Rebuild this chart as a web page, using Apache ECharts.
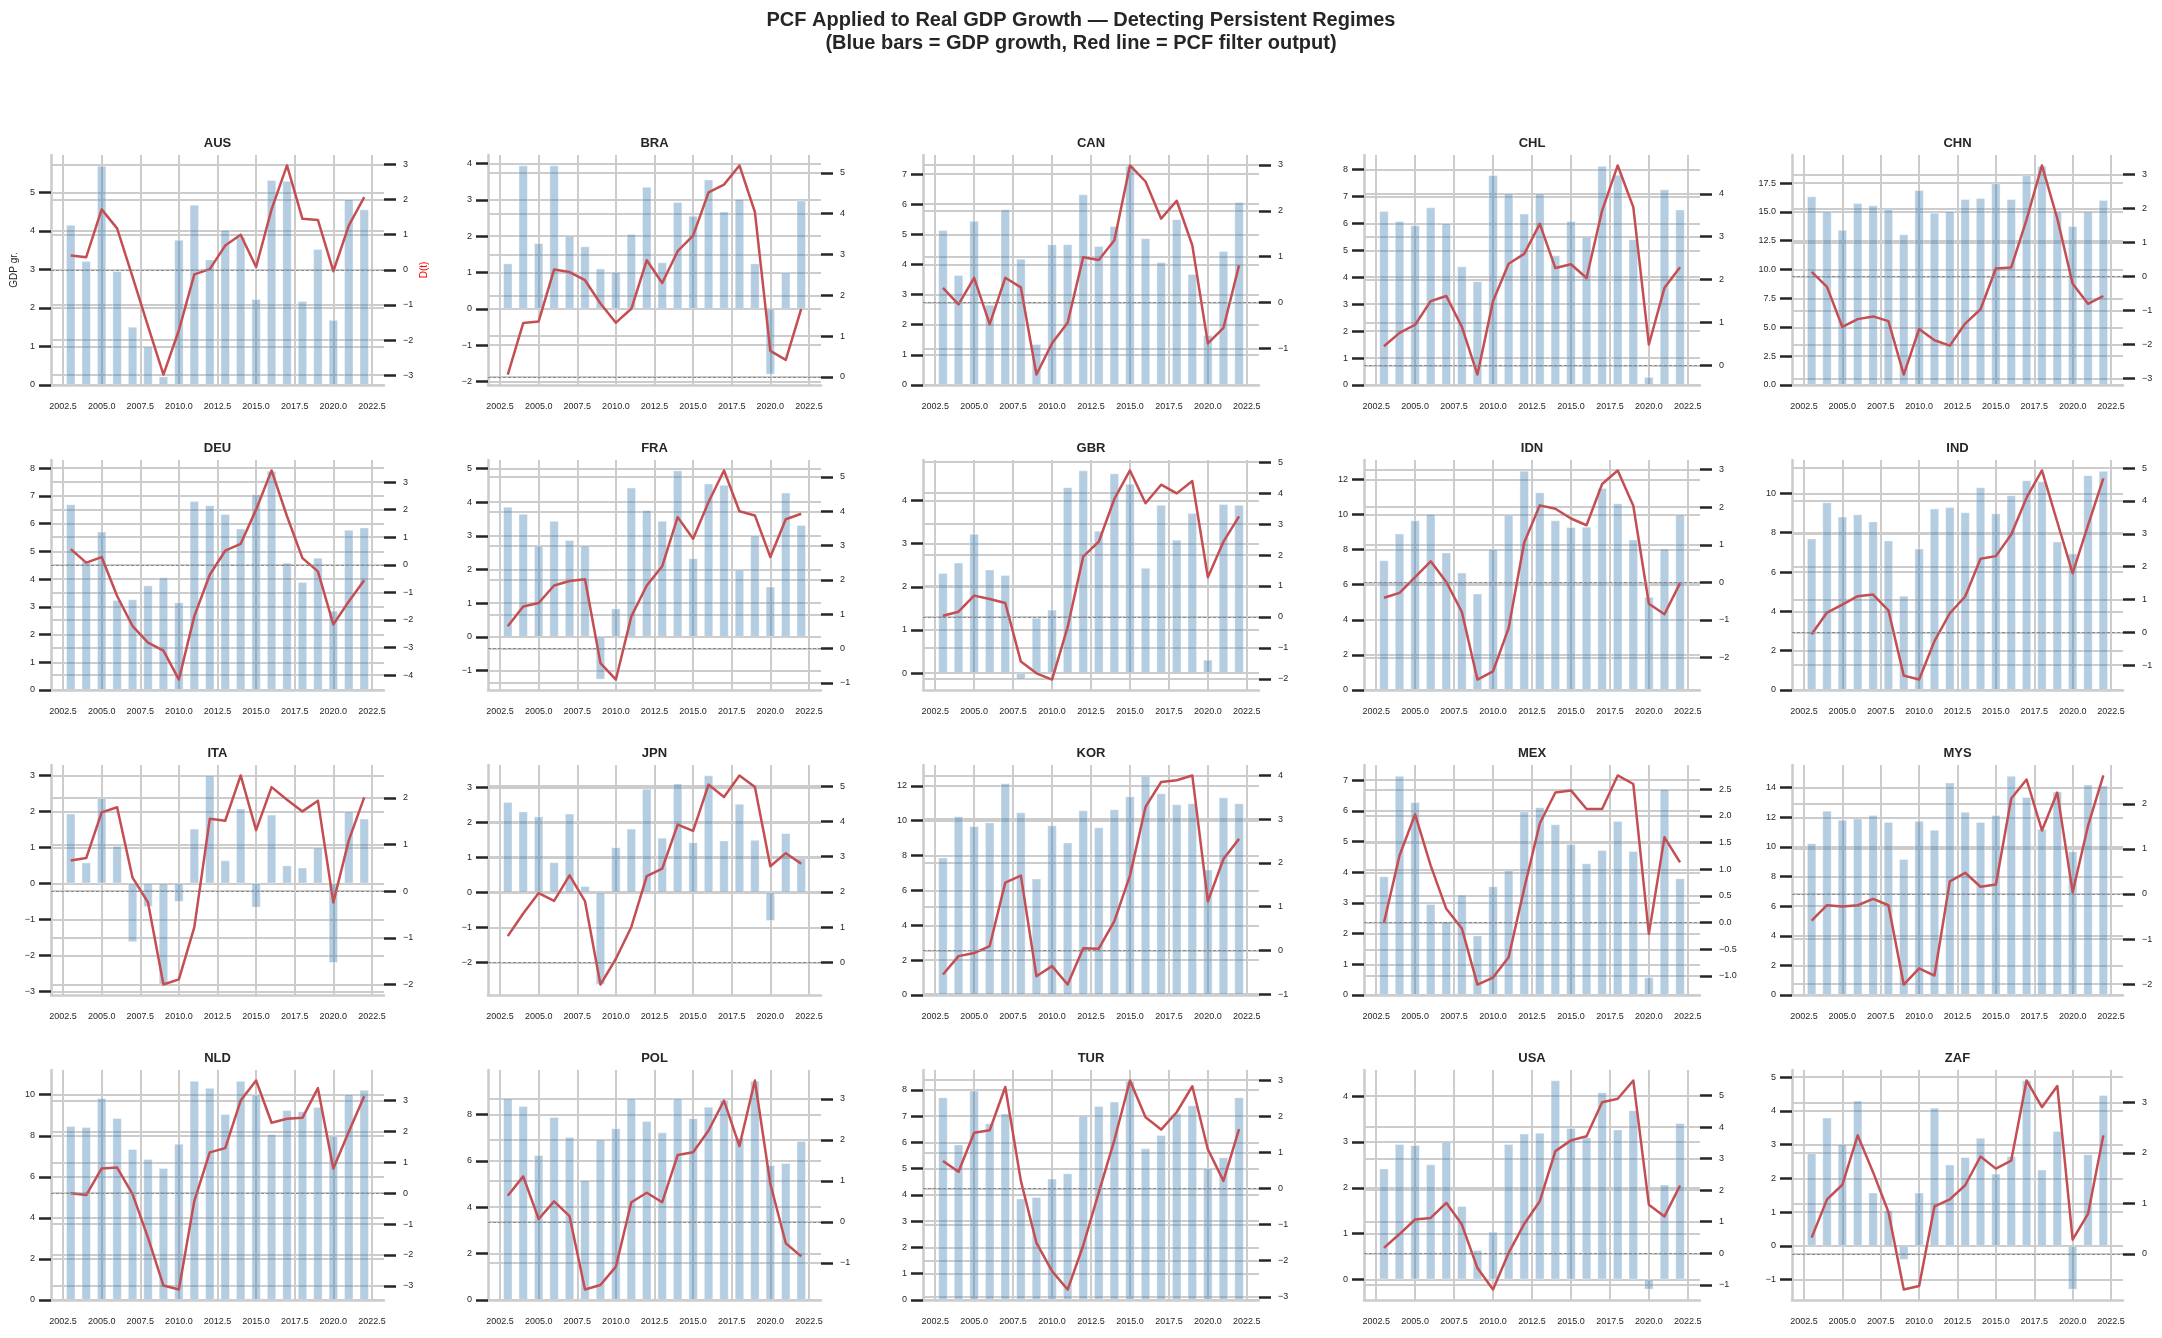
<!DOCTYPE html>
<html>
<head>
<meta charset="utf-8">
<script src="https://cdn.jsdelivr.net/npm/echarts@6/dist/echarts.min.js"></script>
<style>
html,body{margin:0;padding:0;background:#ffffff;}
#chart{width:2162px;height:1338px;}
</style>
</head>
<body>
<div id="chart"></div>
<script>
// ---------------- DATA ----------------
const years = [2003,2004,2005,2006,2007,2008,2009,2010,2011,2012,2013,2014,2015,2016,2017,2018,2019,2020,2021,2022];
const countries = ['AUS','BRA','CAN','CHL','CHN','DEU','FRA','GBR','IDN','IND','ITA','JPN','KOR','MEX','MYS','NLD','POL','TUR','USA','ZAF'];
const xTicks = [2002.5,2005,2007.5,2010,2012.5,2015,2017.5,2020,2022.5];

const AUS_gdp = [4.16,3.22,5.69,2.96,1.51,1.00,0.22,3.77,4.68,3.26,4.03,3.85,2.23,5.32,5.30,2.18,3.53,1.69,4.83,4.56];
const AUS_pcf = [0.41,0.36,1.72,1.18,-0.20,-1.60,-2.98,-1.72,-0.13,0.02,0.69,1.00,0.08,1.72,2.97,1.45,1.42,-0.04,1.26,2.07];
const AUS_tl = [0,1,2,3,4,5];
const AUS_tr = [-3,-2,-1,0,1,2,3];

const BRA_gdp = [1.25,3.95,1.81,3.95,2.01,1.72,1.11,1.02,2.06,3.36,1.28,2.94,2.56,3.56,2.68,3.03,1.25,-1.81,1.00,2.98];
const BRA_pcf = [0.06,1.32,1.36,2.63,2.57,2.37,1.80,1.33,1.67,2.86,2.30,3.08,3.46,4.52,4.71,5.18,4.04,0.64,0.42,1.67];
const BRA_tl = [-2,-1,0,1,2,3,4];
const BRA_tr = [0,1,2,3,4,5];

const CAN_gdp = [5.14,3.65,5.45,2.66,5.83,4.19,1.36,4.67,4.67,6.33,4.61,5.27,7.27,4.87,4.08,5.50,3.68,1.66,4.44,6.07];
const CAN_pcf = [0.32,-0.04,0.54,-0.47,0.54,0.33,-1.57,-0.89,-0.44,0.99,0.93,1.36,2.99,2.64,1.83,2.22,1.25,-0.89,-0.55,0.81];
const CAN_tl = [0,1,2,3,4,5,6,7];
const CAN_tr = [-1,0,1,2,3];

const CHL_gdp = [6.45,6.08,5.93,6.59,6.00,4.40,3.85,7.79,7.11,6.36,7.11,4.81,6.08,5.50,8.13,7.80,5.41,0.30,7.26,6.51];
const CHL_pcf = [0.45,0.76,0.95,1.50,1.62,0.90,-0.21,1.50,2.37,2.60,3.30,2.27,2.36,2.04,3.61,4.66,3.69,0.49,1.81,2.29];
const CHL_tl = [0,1,2,3,4,5,6,7,8];
const CHL_tr = [0,1,2,3,4];

const CHN_gdp = [16.34,15.04,13.44,15.76,15.56,15.24,13.06,16.89,14.92,15.07,16.11,16.20,17.47,16.11,18.17,18.98,15.04,13.76,15.04,16.02];
const CHN_pcf = [0.14,-0.30,-1.48,-1.25,-1.17,-1.31,-2.88,-1.54,-1.87,-2.03,-1.38,-0.96,0.24,0.27,1.68,3.27,1.71,-0.21,-0.80,-0.57];
const CHN_tl = [0,2.5,5,7.5,10,12.5,15,17.5];
const CHN_tr = [-3,-2,-1,0,1,2,3];

const DEU_gdp = [6.70,4.65,5.71,3.24,3.27,3.77,4.06,3.16,6.81,6.66,6.34,5.82,7.06,7.90,4.59,3.89,4.77,2.86,5.78,5.86];
const DEU_pcf = [0.57,0.08,0.28,-1.13,-2.22,-2.82,-3.11,-4.16,-1.86,-0.36,0.51,0.76,2.00,3.42,1.76,0.24,-0.24,-2.16,-1.33,-0.56];
const DEU_tl = [0,1,2,3,4,5,6,7,8];
const DEU_tr = [-4,-3,-2,-1,0,1,2,3];

const FRA_gdp = [3.86,3.65,2.70,3.44,2.87,2.71,-1.27,0.84,4.43,3.76,3.44,4.94,2.33,4.55,4.51,1.99,3.01,1.49,4.28,3.32];
const FRA_pcf = [0.65,1.23,1.33,1.84,1.97,2.02,-0.42,-0.90,0.94,1.84,2.40,3.83,3.20,4.27,5.19,4.00,3.88,2.67,3.77,3.93];
const FRA_tl = [-1,0,1,2,3,4,5];
const FRA_tr = [-1,0,1,2,3,4,5];

const GBR_gdp = [2.32,2.56,3.23,2.40,2.27,-0.15,1.28,1.47,4.31,4.70,3.30,4.63,4.39,2.44,3.90,3.09,3.71,0.31,3.92,3.90];
const GBR_pcf = [0.04,0.17,0.69,0.58,0.45,-1.44,-1.82,-2.02,-0.33,1.95,2.43,3.81,4.73,3.67,4.27,3.99,4.39,1.28,2.43,3.25];
const GBR_tl = [0,1,2,3,4];
const GBR_tr = [-2,-1,0,1,2,3,4,5];

const IDN_gdp = [7.39,8.91,9.66,10.04,7.83,6.69,5.49,8.04,9.98,12.48,11.26,9.66,9.28,9.30,11.50,10.63,8.57,5.31,8.06,10.00];
const IDN_pcf = [-0.41,-0.28,0.14,0.56,0.01,-0.79,-2.59,-2.37,-1.22,1.06,2.05,1.96,1.70,1.52,2.62,2.98,2.04,-0.57,-0.85,-0.02];
const IDN_tl = [0,2,4,6,8,10,12];
const IDN_tr = [-2,-1,0,1,2,3];

const IND_gdp = [7.70,9.54,8.82,8.93,8.57,7.60,4.79,7.19,9.23,9.30,9.03,10.31,8.98,9.90,10.66,10.61,7.55,6.95,10.92,11.14];
const IND_pcf = [-0.06,0.60,0.84,1.10,1.15,0.67,-1.32,-1.44,-0.27,0.58,1.09,2.24,2.32,2.98,4.10,4.93,3.36,1.80,3.26,4.69];
const IND_tl = [0,2,4,6,8,10];
const IND_tr = [-1,0,1,2,3,4,5];

const ITA_gdp = [1.94,0.58,2.37,1.04,-1.63,-0.65,-2.81,-0.51,1.52,3.00,0.64,2.08,-0.67,1.91,0.50,0.44,1.00,-2.21,2.00,1.80];
const ITA_pcf = [0.66,0.71,1.69,1.80,0.29,-0.24,-2.00,-1.89,-0.77,1.55,1.51,2.48,1.31,2.23,1.96,1.71,1.94,-0.24,1.09,2.01];
const ITA_tl = [-3,-2,-1,0,1,2,3];
const ITA_tr = [-2,-1,0,1,2];

const JPN_gdp = [2.58,2.31,2.17,0.86,2.25,0.18,-2.63,1.29,1.82,2.96,1.56,3.11,1.43,3.34,1.48,2.53,1.50,-0.81,1.69,0.98];
const JPN_pcf = [0.75,1.39,1.97,1.75,2.47,1.74,-0.62,0.11,1.01,2.45,2.66,3.91,3.73,5.04,4.69,5.30,4.97,2.73,3.10,2.80];
const JPN_tl = [-2,-1,0,1,2,3];
const JPN_tr = [0,1,2,3,4,5];

const KOR_gdp = [7.89,10.25,9.69,9.90,12.15,10.48,6.68,9.73,8.75,10.60,9.62,10.65,11.40,12.57,11.57,10.94,11.00,7.20,11.34,11.00];
const KOR_pcf = [-0.55,-0.13,-0.06,0.10,1.55,1.71,-0.59,-0.36,-0.78,0.05,0.04,0.67,1.71,3.28,3.85,3.89,4.00,1.12,2.09,2.55];
const KOR_tl = [0,2,4,6,8,10,12];
const KOR_tr = [-1,0,1,2,3,4];

const MEX_gdp = [3.87,7.14,6.29,2.96,2.40,3.27,1.94,3.54,4.07,5.98,6.12,5.56,4.92,4.29,4.72,5.67,4.69,0.58,6.72,3.80];
const MEX_pcf = [0.00,1.26,2.03,1.07,0.26,-0.11,-1.16,-1.03,-0.65,0.64,1.86,2.44,2.48,2.13,2.13,2.76,2.60,-0.21,1.60,1.13];
const MEX_tl = [0,1,2,3,4,5,6,7];
const MEX_tr = [-1,-0.5,0,0.5,1,1.5,2,2.5];

const MYS_gdp = [10.24,12.44,11.83,11.92,12.14,11.67,9.18,11.76,11.15,14.34,12.37,11.67,12.14,14.79,13.37,11.20,13.73,9.70,14.20,14.14];
const MYS_pcf = [-0.59,-0.25,-0.28,-0.25,-0.11,-0.25,-2.01,-1.65,-1.81,0.28,0.47,0.16,0.21,2.12,2.54,1.41,2.25,0.04,1.51,2.63];
const MYS_tl = [0,2,4,6,8,10,12,14];
const MYS_tr = [-2,-1,0,1,2];

const NLD_gdp = [8.47,8.42,9.84,8.86,7.35,6.86,6.42,7.61,10.67,10.33,9.06,10.67,10.00,8.08,9.25,9.19,9.40,8.00,10.03,10.24];
const NLD_pcf = [0.00,-0.06,0.80,0.83,-0.03,-1.44,-2.99,-3.12,-0.25,1.32,1.46,3.00,3.65,2.28,2.41,2.44,3.40,0.80,1.99,3.14];
const NLD_tl = [0,2,4,6,8,10];
const NLD_tr = [-3,-2,-1,0,1,2,3];

const POL_gdp = [8.69,8.36,6.24,7.88,7.02,5.17,6.92,7.40,8.69,7.71,7.22,8.69,7.83,8.32,8.63,7.00,9.44,5.81,5.90,6.85];
const POL_pcf = [0.64,1.11,0.07,0.50,0.14,-1.65,-1.54,-1.09,0.48,0.71,0.48,1.63,1.70,2.23,2.96,1.85,3.45,0.93,-0.52,-0.84];
const POL_tl = [0,2,4,6,8];
const POL_tr = [-1,0,1,2,3];

const TUR_gdp = [7.72,5.92,7.97,6.73,7.10,3.86,3.92,4.62,4.82,7.01,7.38,7.55,8.34,5.77,6.28,7.11,7.41,5.01,5.43,7.72];
const TUR_pcf = [0.76,0.46,1.54,1.61,2.81,0.21,-1.51,-2.29,-2.80,-1.58,-0.11,1.34,2.99,1.97,1.63,2.11,2.83,1.08,0.21,1.64];
const TUR_tl = [0,1,2,3,4,5,6,7,8];
const TUR_tr = [-3,-2,-1,0,1,2,3];

const USA_gdp = [2.42,2.95,2.93,2.51,3.00,1.60,0.64,1.04,2.95,3.18,3.20,4.34,3.30,3.10,4.08,3.27,3.69,-0.22,2.07,3.41];
const USA_pcf = [0.17,0.61,1.07,1.12,1.60,0.91,-0.47,-1.15,0.01,0.93,1.65,3.24,3.58,3.71,4.79,4.90,5.48,1.54,1.17,2.15];
const USA_tl = [0,1,2,3,4];
const USA_tr = [-1,0,1,2,3,4,5];

const ZAF_gdp = [2.75,3.80,3.02,4.30,1.58,1.06,-0.41,1.58,4.09,2.41,2.63,3.20,2.14,2.66,4.90,2.26,3.40,-1.29,2.71,4.47];
const ZAF_pcf = [0.32,1.08,1.37,2.35,1.62,0.83,-0.71,-0.64,0.94,1.08,1.36,1.93,1.69,1.85,3.44,2.91,3.33,0.28,0.79,2.35];
const ZAF_tl = [-1,0,1,2,3,4,5];
const ZAF_tr = [0,1,2,3];

// lookup tables built from the arrays above
const gdpOf = {AUS:AUS_gdp,BRA:BRA_gdp,CAN:CAN_gdp,CHL:CHL_gdp,CHN:CHN_gdp,DEU:DEU_gdp,FRA:FRA_gdp,GBR:GBR_gdp,IDN:IDN_gdp,IND:IND_gdp,ITA:ITA_gdp,JPN:JPN_gdp,KOR:KOR_gdp,MEX:MEX_gdp,MYS:MYS_gdp,NLD:NLD_gdp,POL:POL_gdp,TUR:TUR_gdp,USA:USA_gdp,ZAF:ZAF_gdp};
const pcfOf = {AUS:AUS_pcf,BRA:BRA_pcf,CAN:CAN_pcf,CHL:CHL_pcf,CHN:CHN_pcf,DEU:DEU_pcf,FRA:FRA_pcf,GBR:GBR_pcf,IDN:IDN_pcf,IND:IND_pcf,ITA:ITA_pcf,JPN:JPN_pcf,KOR:KOR_pcf,MEX:MEX_pcf,MYS:MYS_pcf,NLD:NLD_pcf,POL:POL_pcf,TUR:TUR_pcf,USA:USA_pcf,ZAF:ZAF_pcf};
const tlOf = {AUS:AUS_tl,BRA:BRA_tl,CAN:CAN_tl,CHL:CHL_tl,CHN:CHN_tl,DEU:DEU_tl,FRA:FRA_tl,GBR:GBR_tl,IDN:IDN_tl,IND:IND_tl,ITA:ITA_tl,JPN:JPN_tl,KOR:KOR_tl,MEX:MEX_tl,MYS:MYS_tl,NLD:NLD_tl,POL:POL_tl,TUR:TUR_tl,USA:USA_tl,ZAF:ZAF_tl};
const trOf = {AUS:AUS_tr,BRA:BRA_tr,CAN:CAN_tr,CHL:CHL_tr,CHN:CHN_tr,DEU:DEU_tr,FRA:FRA_tr,GBR:GBR_tr,IDN:IDN_tr,IND:IND_tr,ITA:ITA_tr,JPN:JPN_tr,KOR:KOR_tr,MEX:MEX_tr,MYS:MYS_tr,NLD:NLD_tr,POL:POL_tr,TUR:TUR_tr,USA:USA_tr,ZAF:ZAF_tr};

// ---------------- LAYOUT / STYLE ----------------
const FONT = "'Liberation Sans', Arial, Helvetica, sans-serif";
const TXT = '#262626';
const GRIDC = '#cccccc';
const colLeft = [51, 488, 923, 1364, 1792];
const colWidth = [333, 333, 336, 336, 331];
const rowTop = [155, 460, 765, 1070];
const plotH = 230;
const xMin = 2001.72, xMax = 2023.28;

function fmtTicks(ticks) {
  const dec = ticks.some(t => Math.abs(t - Math.round(t)) > 1e-9) ? 1 : 0;
  return v => {
    const s = Math.abs(v).toFixed(dec);
    return (v < -1e-9 ? '\u2212' : '') + s;
  };
}

const chart = echarts.init(document.getElementById('chart'), null, {renderer: 'canvas'});
const grids = [], xAxes = [], yAxes = [], series = [], graphics = [];

graphics.push({type:'text', x:1081, y:20, silent:true,
  style:{text:'PCF Applied to Real GDP Growth \u2014 Detecting Persistent Regimes', fontSize:20, fontWeight:'bold', fontFamily:FONT, fill:TXT, align:'center', verticalAlign:'middle', textAlign:'center', textVerticalAlign:'middle'}});
graphics.push({type:'text', x:1081, y:43, silent:true,
  style:{text:'(Blue bars = GDP growth, Red line = PCF filter output)', fontSize:20, fontWeight:'bold', fontFamily:FONT, fill:TXT, align:'center', verticalAlign:'middle', textAlign:'center', textVerticalAlign:'middle'}});

countries.forEach((c, i) => {
  const r = Math.floor(i / 5), k = i % 5;
  const gdp = gdpOf[c], pcf = pcfOf[c], tl = tlOf[c], tr = trOf[c];

  // axis ranges like matplotlib autoscale (5% margins, bars sticky at 0)
  const lo = Math.min(0, ...gdp), hi = Math.max(0, ...gdp);
  const lrange = hi - lo;
  const lMin = lo < 0 ? lo - 0.05 * lrange : 0;
  const lMax = hi + 0.05 * lrange;
  const plo = Math.min(...pcf), phi = Math.max(...pcf);
  const prange = phi - plo;
  const rMin = plo - 0.05 * prange, rMax = phi + 0.05 * prange;

  grids.push({left: colLeft[k], top: rowTop[r], width: colWidth[k], height: plotH, containLabel: false});

  xAxes.push({
    type: 'value', gridIndex: i, min: xMin, max: xMax,
    axisLine: {show: true, onZero: false, lineStyle: {color: GRIDC, width: 2.6}},
    axisTick: {show: false, customValues: xTicks},
    axisLabel: {customValues: xTicks, formatter: v => v.toFixed(1), margin: 17, fontSize: 9, color: TXT, fontFamily: FONT},
    splitLine: {show: true, lineStyle: {color: GRIDC, width: 2}}
  });

  yAxes.push({
    type: 'value', gridIndex: i, position: 'left', min: lMin, max: lMax,
    axisLine: {show: true, onZero: false, lineStyle: {color: GRIDC, width: 2.6}},
    axisTick: {show: true, length: 12, customValues: tl, lineStyle: {color: TXT, width: 2.5}},
    axisLabel: {customValues: tl, formatter: fmtTicks(tl), margin: 16, fontSize: 9, color: TXT, fontFamily: FONT},
    splitLine: {show: true, lineStyle: {color: GRIDC, width: 2}}
  });
  yAxes.push({
    type: 'value', gridIndex: i, position: 'right', min: rMin, max: rMax,
    axisLine: {show: false, onZero: false},
    axisTick: {show: true, length: 12, customValues: tr, lineStyle: {color: TXT, width: 2.5}},
    axisLabel: {customValues: tr, formatter: fmtTicks(tr), margin: 19, fontSize: 9, color: TXT, fontFamily: FONT},
    splitLine: {show: true, lineStyle: {color: GRIDC, width: 2}}
  });

  const bw = 0.6 * colWidth[k] / (xMax - xMin);
  series.push({
    type: 'bar', name: c + ' GDP', xAxisIndex: i, yAxisIndex: 2 * i,
    data: years.map((y, j) => [y, gdp[j]]),
    barWidth: bw, silent: true, z: 2,
    itemStyle: {color: 'rgba(70,130,180,0.4)', borderColor: 'rgba(255,255,255,0.45)', borderWidth: 0.8}
  });
  series.push({
    type: 'line', name: c + ' PCF', xAxisIndex: i, yAxisIndex: 2 * i + 1,
    data: years.map((y, j) => [y, pcf[j]]),
    symbol: 'none', showSymbol: false, silent: true, z: 3,
    lineStyle: {color: '#C44E52', width: 2.5, join: 'round'},
    markLine: {
      silent: true, symbol: ['none', 'none'], label: {show: false}, animation: false,
      lineStyle: {type: [3, 2], color: '#8a8a8a', width: 1},
      emphasis: {disabled: true},
      data: [{yAxis: 0}]
    }
  });

  graphics.push({type: 'text', x: colLeft[k] + colWidth[k] / 2, y: rowTop[r] - 12, silent: true,
    style: {text: c, fontSize: 13, fontWeight: 'bold', fontFamily: FONT, fill: TXT, align: 'center', verticalAlign: 'middle', textAlign: 'center', textVerticalAlign: 'middle'}});
});

// axis names on the first panel
graphics.push({type: 'text', x: 14, y: 270, rotation: Math.PI / 2, silent: true,
  style: {text: 'GDP gr.', fontSize: 10, fontFamily: FONT, fill: TXT, align: 'center', verticalAlign: 'middle', textAlign: 'center', textVerticalAlign: 'middle'}});
graphics.push({type: 'text', x: 424, y: 270, rotation: Math.PI / 2, silent: true,
  style: {text: 'D(t)', fontSize: 10, fontFamily: FONT, fill: '#ff0000', align: 'center', verticalAlign: 'middle', textAlign: 'center', textVerticalAlign: 'middle'}});

chart.setOption({
  animation: false,
  backgroundColor: '#ffffff',
  grid: grids,
  xAxis: xAxes,
  yAxis: yAxes,
  series: series,
  graphic: {elements: graphics}
});
</script>
</body>
</html>
